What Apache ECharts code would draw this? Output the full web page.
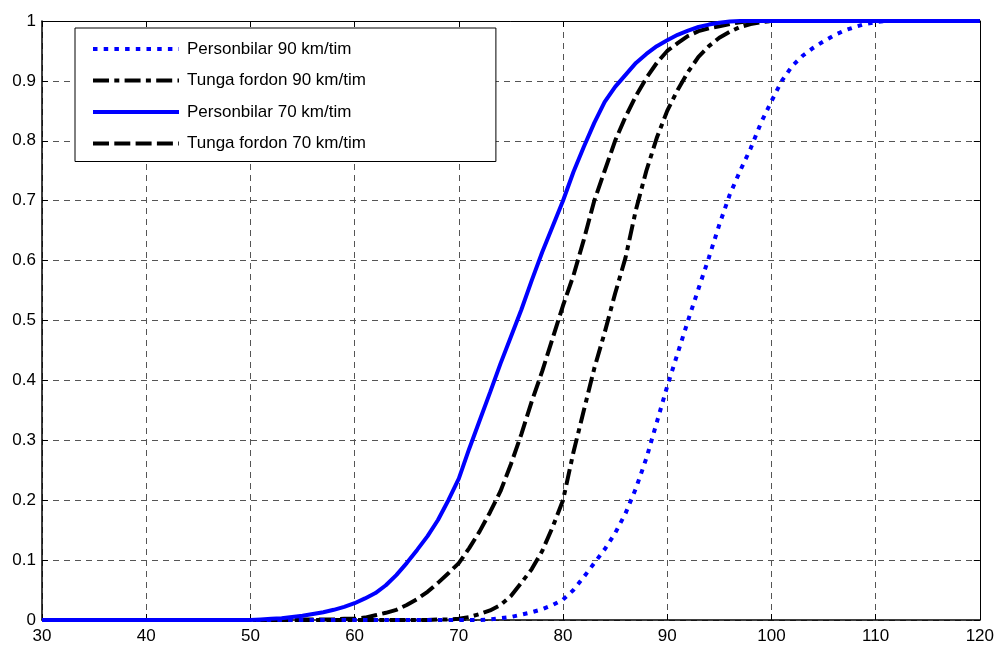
<!DOCTYPE html>
<html>
<head>
<meta charset="utf-8">
<script src="https://cdn.jsdelivr.net/npm/echarts@6/dist/echarts.min.js"></script>
<style>
html,body{margin:0;padding:0;background:#fff;}
#chart{width:997px;height:645px;}
</style>
</head>
<body>
<div id="chart"></div>
<script>
// x values (km/tim)
const speeds = [30,31,32,33,34,35,36,37,38,39,40,41,42,43,44,45,46,47,48,49,50,51,52,53,54,55,56,57,58,59,60,61,62,63,64,65,66,67,68,69,70,71,72,73,74,75,76,77,78,79,80,81,82,83,84,85,86,87,88,89,90,91,92,93,94,95,96,97,98,99,100,101,102,103,104,105,106,107,108,109,110,111,112,113,114,115,116,117,118,119,120];

const seriesNames = ['Personbilar 90 km/tim','Tunga fordon 90 km/tim','Personbilar 70 km/tim','Tunga fordon 70 km/tim'];

// Personbilar 90 km/tim (blue dotted)
const pb90 = [0,0,0,0,0,0,0,0,0,0, 0,0,0,0,0,0,0,0,0,0, 0,0,0,0,0,0,0,0,0,0, 0,0,0,0,0,0,0,0,0,0, 0,0,0,0.001,0.003,0.005,0.009,0.013,0.018,0.025, 0.034,0.05,0.072,0.095,0.118,0.145,0.178,0.22,0.27,0.33, 0.39,0.445,0.5,0.553,0.605,0.66,0.71,0.75,0.787,0.83, 0.866,0.9,0.925,0.942,0.955,0.966,0.976,0.984,0.99,0.995, 0.998,1,1,1,1,1,1,1,1,1,1];

// Tunga fordon 90 km/tim (black dash-dot)
const tf90 = [0,0,0,0,0,0,0,0,0,0, 0,0,0,0,0,0,0,0,0,0, 0,0,0,0,0,0,0,0,0,0, 0,0,0,0,0,0,0,0,0.001,0.001, 0.002,0.005,0.01,0.016,0.025,0.04,0.062,0.085,0.115,0.155, 0.2,0.28,0.35,0.42,0.48,0.545,0.605,0.685,0.75,0.805, 0.85,0.885,0.915,0.94,0.958,0.972,0.982,0.99,0.995,0.998, 1,1,1,1,1,1,1,1,1,1, 1,1,1,1,1,1,1,1,1,1,1];

// Personbilar 70 km/tim (blue solid)
const pb70 = [0,0,0,0,0,0,0,0,0,0, 0,0,0,0,0,0,0,0,0,0, 0,0.001,0.002,0.003,0.005,0.007,0.01,0.013,0.017,0.022, 0.028,0.036,0.045,0.058,0.075,0.095,0.117,0.14,0.167,0.2, 0.236,0.286,0.333,0.38,0.428,0.473,0.518,0.567,0.614,0.657, 0.7,0.748,0.79,0.83,0.865,0.89,0.91,0.93,0.945,0.958, 0.968,0.977,0.984,0.99,0.994,0.997,0.999,1,1,1, 1,1,1,1,1,1,1,1,1,1, 1,1,1,1,1,1,1,1,1,1,1];

// Tunga fordon 70 km/tim (black dashed)
const tf70 = [0,0,0,0,0,0,0,0,0,0, 0,0,0,0,0,0,0,0,0,0, 0,0,0,0,0,0.001,0.001,0.001,0.001,0.002, 0.002,0.004,0.008,0.012,0.017,0.025,0.035,0.047,0.062,0.078, 0.095,0.12,0.148,0.18,0.215,0.26,0.31,0.365,0.415,0.47, 0.525,0.575,0.635,0.7,0.75,0.8,0.84,0.875,0.905,0.93, 0.95,0.963,0.975,0.983,0.988,0.991,0.995,0.998,1,1, 1,1,1,1,1,1,1,1,1,1, 1,1,1,1,1,1,1,1,1,1,1];

const xTicks = [30,40,50,60,70,80,90,100,110,120];
const yTicks = [0,0.1,0.2,0.3,0.4,0.5,0.6,0.7,0.8,0.9,1];

function pairs(ys){ return speeds.map((x,i)=>[x, ys[i]]); }

const chart = echarts.init(document.getElementById('chart'), null, {renderer:'canvas'});
const font = 'Liberation Sans, Arial, Helvetica, sans-serif';
const gridLine = {show:true, lineStyle:{color:'#555', width:1, type:[6,5]}};

chart.setOption({
  animation:false,
  backgroundColor:'#fff',
  grid:{left:42, right:17, top:21, bottom:23, containLabel:false},
  legend:{
    orient:'vertical', left:75, top:28,
    padding:[11.5,130,8.5,16],
    itemGap:12.5, itemWidth:86, itemHeight:14,
    backgroundColor:'#fff', borderColor:'#000', borderWidth:1,
    itemStyle:{opacity:0},
    lineStyle:{width:4, opacity:1},
    textStyle:{fontFamily:font, fontSize:17, color:'#000', lineHeight:19, padding:[0,0,0,3]},
    data:seriesNames
  },
  xAxis:[{
    type:'value', min:xTicks[0], max:xTicks[xTicks.length-1], interval:10,
    axisLine:{show:true, onZero:false, lineStyle:{color:'#000', width:1.5}},
    axisTick:{show:true, inside:true, length:6, lineStyle:{color:'#000'}},
    axisLabel:{fontFamily:font, fontSize:17, color:'#000', margin:8},
    splitLine:gridLine
  },{
    type:'value', position:'top', min:xTicks[0], max:xTicks[xTicks.length-1], interval:10,
    axisLine:{show:true, onZero:false, lineStyle:{color:'#000', width:1}},
    axisTick:{show:true, inside:true, length:6, lineStyle:{color:'#000'}},
    axisLabel:{show:false}, splitLine:{show:false}
  }],
  yAxis:[{
    type:'value', min:0, max:1, interval:0.1,
    axisLine:{show:true, onZero:false, lineStyle:{color:'#000', width:1.5}},
    axisTick:{show:true, inside:true, length:6, lineStyle:{color:'#000'}},
    axisLabel:{fontFamily:font, fontSize:17, color:'#000', margin:6,
      formatter:function(v){ return String(Math.round(v*10)/10); }},
    splitLine:gridLine
  },{
    type:'value', position:'right', min:0, max:1, interval:0.1,
    axisLine:{show:true, onZero:false, lineStyle:{color:'#000', width:1}},
    axisTick:{show:true, inside:true, length:6, lineStyle:{color:'#000'}},
    axisLabel:{show:false}, splitLine:{show:false}
  }],
  series:[
    {name:seriesNames[0], type:'line', data:pairs(pb90), symbol:'none', z:5,
     lineStyle:{color:'#0000ff', width:4, type:[4.5,6.2], cap:'butt'}, itemStyle:{color:'#0000ff'}},
    {name:seriesNames[1], type:'line', data:pairs(tf90), symbol:'none', z:3,
     lineStyle:{color:'#000', width:4, type:[16,5.3,5,5.3], cap:'butt'}, itemStyle:{color:'#000'}},
    {name:seriesNames[2], type:'line', data:pairs(pb70), symbol:'none', z:4,
     lineStyle:{color:'#0000ff', width:4, type:'solid'}, itemStyle:{color:'#0000ff'}},
    {name:seriesNames[3], type:'line', data:pairs(tf70), symbol:'none', z:3,
     lineStyle:{color:'#000', width:4, type:[16,5.3], cap:'butt'}, itemStyle:{color:'#000'}}
  ]
});
</script>
</body>
</html>
